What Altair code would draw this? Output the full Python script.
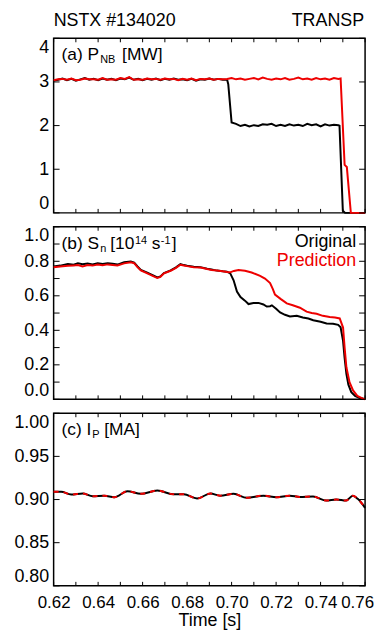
import altair as alt
import pandas as pd

FONT = "Liberation Sans"
RED = "#ee0000"

# ---------------- data ----------------
x_ticks = [0.62, 0.63, 0.64, 0.65, 0.66, 0.67, 0.68, 0.69, 0.70, 0.71, 0.72, 0.73, 0.74, 0.75, 0.76]
x_labels = [0.62, 0.64, 0.66, 0.68, 0.70, 0.72, 0.74, 0.76]

# (a) P_NB [MW]
pnb_orig_t = [0.620, 0.622, 0.624, 0.626, 0.628, 0.630, 0.632, 0.634, 0.636, 0.638,
              0.640, 0.642, 0.644, 0.646, 0.648, 0.650, 0.652, 0.654, 0.656, 0.658,
              0.660, 0.662, 0.664, 0.666, 0.668, 0.670, 0.672, 0.674, 0.676, 0.678,
              0.680, 0.682, 0.684, 0.686, 0.688, 0.690, 0.692, 0.694, 0.696, 0.698,
              0.6985, 0.7000,
              0.702, 0.704, 0.706, 0.708, 0.710, 0.712, 0.714, 0.716, 0.718, 0.720,
              0.722, 0.724, 0.726, 0.728, 0.730, 0.732, 0.734, 0.736, 0.738, 0.740,
              0.742, 0.744, 0.746, 0.748,
              0.7485, 0.7500, 0.7510, 0.7600]
pnb_orig_v = [3.03, 3.05, 3.08, 3.04, 3.07, 3.03, 3.06, 3.09, 3.05, 3.07,
              3.04, 3.08, 3.05, 3.07, 3.04, 3.08, 3.06, 3.10, 3.05, 3.07,
              3.04, 3.07, 3.05, 3.08, 3.04, 3.07, 3.05, 3.08, 3.05, 3.06,
              3.04, 3.07, 3.03, 3.06, 3.05, 3.08, 3.05, 3.07, 3.05, 3.05,
              2.95, 2.07,
              2.04, 1.99, 2.02, 1.98, 2.01, 1.99, 2.03, 2.02, 2.04, 1.99,
              2.02, 1.99, 2.03, 2.00, 2.02, 1.99, 2.04, 2.01, 2.03, 1.98,
              2.03, 2.00, 2.02, 2.01,
              2.00, 0.05, 0.00, 0.00]
pnb_pred_t = [0.620, 0.622, 0.624, 0.626, 0.628, 0.630, 0.632, 0.634, 0.636, 0.638,
              0.640, 0.642, 0.644, 0.646, 0.648, 0.650, 0.652, 0.654, 0.656, 0.658,
              0.660, 0.662, 0.664, 0.666, 0.668, 0.670, 0.672, 0.674, 0.676, 0.678,
              0.680, 0.682, 0.684, 0.686, 0.688, 0.690, 0.692, 0.694, 0.696, 0.698,
              0.700, 0.702, 0.704, 0.706, 0.708, 0.710, 0.712, 0.714, 0.716, 0.718,
              0.720, 0.722, 0.724, 0.726, 0.728, 0.730, 0.732, 0.734, 0.736, 0.738,
              0.740, 0.742, 0.744, 0.746, 0.748,
              0.7490, 0.7508, 0.7518, 0.7536, 0.7600]
pnb_pred_v = [3.04, 3.06, 3.07, 3.05, 3.08, 3.04, 3.05, 3.08, 3.06, 3.06,
              3.05, 3.09, 3.05, 3.06, 3.05, 3.09, 3.07, 3.11, 3.05, 3.06,
              3.05, 3.08, 3.06, 3.07, 3.05, 3.08, 3.06, 3.07, 3.04, 3.07,
              3.05, 3.08, 3.04, 3.07, 3.06, 3.08, 3.05, 3.07, 3.06, 3.07,
              3.09, 3.06, 3.08, 3.05, 3.07, 3.09, 3.06, 3.10, 3.07, 3.05,
              3.08, 3.06, 3.09, 3.05, 3.07, 3.10, 3.06, 3.08, 3.05, 3.09,
              3.06, 3.08, 3.05, 3.09, 3.07,
              3.08, 1.10, 1.05, 0.00, 0.00]

# (b) S_n [10^14 s^-1]
sn_orig_t = [0.6200, 0.6230, 0.6264, 0.6290, 0.6309, 0.6330, 0.6353, 0.6375, 0.6398, 0.6420,
             0.6443, 0.6465, 0.6487, 0.6517, 0.6547, 0.6562, 0.6577, 0.6592, 0.6621, 0.6645,
             0.6666, 0.6680, 0.6696, 0.6726, 0.6750, 0.6770, 0.6785, 0.6800, 0.6830, 0.6860,
             0.6890, 0.6910, 0.6934, 0.6960, 0.6979, 0.6994, 0.7009, 0.7024, 0.7040, 0.7060,
             0.7076, 0.7098, 0.7121, 0.7143, 0.7158, 0.7173, 0.7181, 0.7200, 0.7218, 0.7240,
             0.7262, 0.7293, 0.7320, 0.7345, 0.7367, 0.7400, 0.7427, 0.7456, 0.7479, 0.7490,
             0.7501, 0.7508, 0.7516, 0.7525, 0.7538, 0.7555, 0.7575, 0.7600]
sn_orig_v = [0.770, 0.775, 0.784, 0.780, 0.789, 0.783, 0.787, 0.781, 0.788, 0.784,
             0.789, 0.786, 0.781, 0.795, 0.799, 0.793, 0.770, 0.750, 0.734, 0.720,
             0.707, 0.712, 0.732, 0.747, 0.765, 0.784, 0.778, 0.774, 0.768, 0.766,
             0.757, 0.752, 0.746, 0.742, 0.740, 0.730, 0.690, 0.625, 0.593, 0.572,
             0.552, 0.558, 0.559, 0.550, 0.538, 0.540, 0.545, 0.525, 0.504, 0.490,
             0.480, 0.484, 0.474, 0.468, 0.458, 0.450, 0.440, 0.438, 0.432, 0.418,
             0.339, 0.240, 0.148, 0.085, 0.042, 0.020, 0.008, 0.002]
sn_pred_t = [0.6200, 0.6230, 0.6264, 0.6290, 0.6309, 0.6330, 0.6353, 0.6375, 0.6398, 0.6420,
             0.6443, 0.6465, 0.6487, 0.6517, 0.6547, 0.6562, 0.6577, 0.6592, 0.6621, 0.6645,
             0.6666, 0.6680, 0.6696, 0.6726, 0.6750, 0.6770, 0.6785, 0.6800, 0.6830, 0.6860,
             0.6890, 0.6910, 0.6934, 0.6960, 0.6979, 0.6994, 0.7010, 0.7031, 0.7060, 0.7090,
             0.7128, 0.7150, 0.7173, 0.7185, 0.7195, 0.7220, 0.7248, 0.7275, 0.7307, 0.7337,
             0.7360, 0.7382, 0.7410, 0.7441, 0.7465, 0.7486, 0.7501, 0.7508, 0.7516, 0.7530,
             0.7546, 0.7565, 0.7590, 0.7600]
sn_pred_v = [0.765, 0.770, 0.774, 0.776, 0.778, 0.770, 0.778, 0.775, 0.781, 0.777,
             0.782, 0.779, 0.776, 0.788, 0.794, 0.789, 0.766, 0.747, 0.730, 0.716,
             0.703, 0.710, 0.730, 0.745, 0.762, 0.780, 0.776, 0.772, 0.766, 0.764,
             0.755, 0.750, 0.746, 0.742, 0.738, 0.736, 0.744, 0.750, 0.745, 0.735,
             0.716, 0.700, 0.674, 0.640, 0.607, 0.582, 0.556, 0.545, 0.531, 0.508,
             0.500, 0.496, 0.484, 0.477, 0.474, 0.469, 0.416, 0.300, 0.186, 0.100,
             0.052, 0.020, 0.004, 0.001]

# (c) I_P [MA]
ip_t = [0.6200, 0.6234, 0.6279, 0.6331, 0.6376, 0.6428, 0.6473, 0.6532, 0.6592, 0.6666,
        0.6741, 0.6785, 0.6845, 0.6905, 0.6949, 0.7009, 0.7068, 0.7143, 0.7202, 0.7262,
        0.7307, 0.7366, 0.7426, 0.7470, 0.7515, 0.7545, 0.7567, 0.7600]
ip_orig_v = [0.9089, 0.9090, 0.9058, 0.9070, 0.9038, 0.9045, 0.9027, 0.9096, 0.9066, 0.9104,
             0.9060, 0.9060, 0.9012, 0.9070, 0.9045, 0.9066, 0.9020, 0.9045, 0.9027, 0.9045,
             0.9030, 0.9035, 0.8988, 0.9000, 0.8988, 0.9045, 0.9008, 0.8904]
ip_pred_v = [0.9089, 0.9090, 0.9058, 0.9070, 0.9038, 0.9045, 0.9027, 0.9096, 0.9066, 0.9104,
             0.9060, 0.9060, 0.9012, 0.9070, 0.9045, 0.9066, 0.9020, 0.9045, 0.9027, 0.9045,
             0.9030, 0.9035, 0.8988, 0.9000, 0.8988, 0.9045, 0.9008, 0.8904]

ya_ticks = [0, 1, 2, 3, 4]
yb_ticks = [0.0, 0.1, 0.2, 0.3, 0.4, 0.5, 0.6, 0.7, 0.8, 0.9, 1.0]
yb_labels = [0.0, 0.2, 0.4, 0.6, 0.8, 1.0]
yc_ticks = [0.80, 0.85, 0.90, 0.95, 1.00]

# ---------------- chart ----------------
W = 314
XDOM = [0.62, 0.76]
dummy = pd.DataFrame({"d": [0]})


def text_layer(txt, x, y, size=18, color="black", align="left"):
    return alt.Chart(dummy).mark_text(
        text=txt, font=FONT, fontSize=size, color=color, align=align,
        baseline="alphabetic").encode(x=alt.value(x), y=alt.value(y))


def panel(series, ydom, yticks, ylabels, yfmt, height, texts, show_x):
    xscale = alt.Scale(domain=XDOM, nice=False, zero=False)
    yscale = alt.Scale(domain=ydom, nice=False, zero=False)
    yaxis = alt.Axis(values=ylabels, format=yfmt, ticks=False, tickSize=0, domain=False,
                     grid=False, labelFlush=True, labelFont=FONT, labelFontSize=18,
                     labelColor="black", labelPadding=5, minExtent=39, maxExtent=39,
                     title=None)
    if show_x:
        xaxis = alt.Axis(values=x_labels, format=".2f", ticks=False, tickSize=0, domain=False,
                         grid=False, labelFlush=False, labelOverlap=False,
                         labelOffset={"condition": {"test": "datum.value > 0.755", "value": -8},
                                      "value": 0},
                         labelFont=FONT, labelFontSize=17, labelColor="black", labelPadding=9,
                         title="Time [s]", titleFont=FONT, titleFontSize=18,
                         titleFontWeight="normal", titleColor="black", titlePadding=1)
    else:
        xaxis = None

    def X():
        return alt.X("t:Q", scale=xscale, axis=xaxis)

    def Y():
        return alt.Y("v:Q", scale=yscale, axis=yaxis)

    layers = []
    for t, v, color, dash, interp in series:
        df = pd.DataFrame({"t": t, "v": v})
        kw = dict(color=color, strokeWidth=2, interpolate=interp)
        if dash:
            kw["strokeDash"] = dash
        layers.append(alt.Chart(df).mark_line(**kw).encode(x=X(), y=Y()))

    ydf = pd.DataFrame({"v": yticks})
    xdf = pd.DataFrame({"t": x_ticks})
    rk = dict(color="black", strokeWidth=1)
    layers.append(alt.Chart(ydf).mark_rule(**rk).encode(y=Y(), x=alt.value(0), x2=alt.value(6)))
    layers.append(alt.Chart(ydf).mark_rule(**rk).encode(y=Y(), x=alt.value(W - 6), x2=alt.value(W)))
    layers.append(alt.Chart(xdf).mark_rule(**rk).encode(x=X(), y=alt.value(height), y2=alt.value(height - 4)))
    layers.append(alt.Chart(xdf).mark_rule(**rk).encode(x=X(), y=alt.value(0), y2=alt.value(4)))
    for tx in texts:
        layers.append(text_layer(*tx))
    return alt.layer(*layers).properties(width=W, height=height)


pa = panel(
    [(pnb_orig_t, pnb_orig_v, "black", None, "linear"),
     (pnb_pred_t, pnb_pred_v, RED, None, "linear")],
    [0, 4], ya_ticks, ya_ticks, "d", 176,
    [("NSTX #134020", 0, -12.3, 18),
     ("TRANSP", 313, -12.3, 18, "black", "right"),
     ("(a) P", 8, 22, 17.5),
     ("NB", 47, 25, 11),
     ("[MW]", 69, 22, 17.5)],
    False)

pb = panel(
    [(sn_orig_t, sn_orig_v, "black", None, "linear"),
     (sn_pred_t, sn_pred_v, RED, None, "linear")],
    [0, 1], yb_ticks, yb_labels, ".1f", 174,
    [("(b) S", 8, 22, 17.5),
     ("n", 47, 25, 11),
     ("[10", 57, 22, 17.5),
     ("14", 82, 17.5, 11),
     ("s", 99, 22, 17.5),
     ("-1", 108, 17.5, 11),
     ("]", 119, 22, 17.5),
     ("Original", 305, 20.7, 18, "black", "right"),
     ("Prediction", 305, 40, 18, RED, "right")],
    False)

pc = panel(
    [(ip_t, ip_orig_v, "black", None, "monotone"),
     (ip_t, ip_pred_v, RED, [5, 5], "monotone")],
    [0.80, 1.00], yc_ticks, yc_ticks, ".2f", 174,
    [("(c) I", 8, 22, 17.5),
     ("P", 39, 25, 11),
     ("[MA]", 51, 22, 17.5)],
    True)

chart = alt.vconcat(pa, pb, pc, spacing=14, bounds="flush").properties(
    padding={"left": 5, "top": 0, "right": 0, "bottom": 0}
).configure_view(stroke="black", strokeWidth=1.5)

chart.save("out.html", embed_options={"renderer": "svg", "actions": False})
